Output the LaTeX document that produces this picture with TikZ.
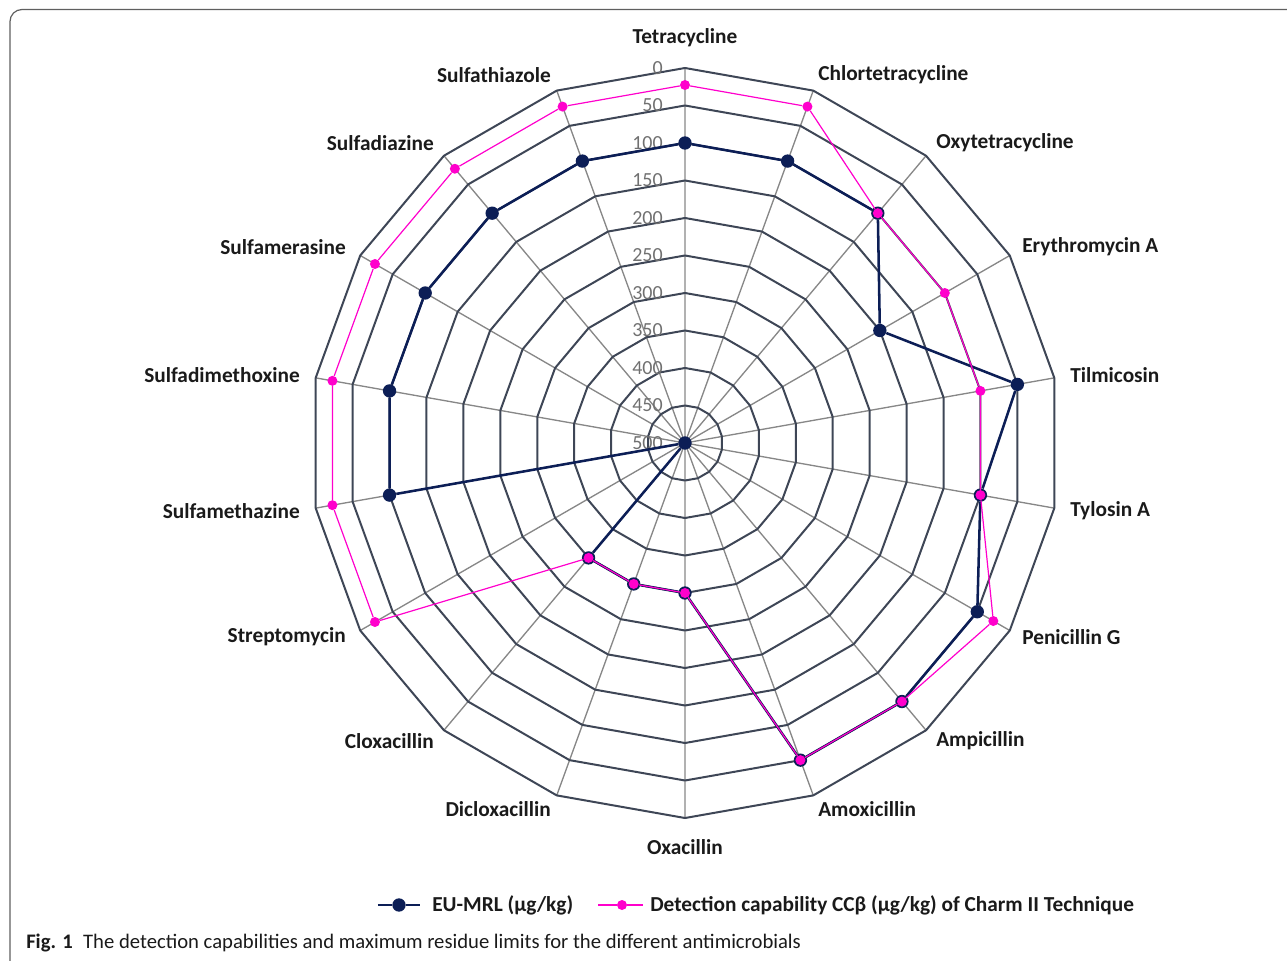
\documentclass[tikz,border=0pt]{standalone}
\usepackage{fontspec}
\setmainfont{Carlito}
\usetikzlibrary{shapes.geometric}
\definecolor{mrlblue}{RGB}{12,30,86}
\definecolor{ccbpink}{RGB}{255,0,204}
\definecolor{ringgray}{RGB}{62,70,86}
\definecolor{spokegray}{RGB}{135,135,135}
\definecolor{tickgray}{RGB}{112,112,112}
\definecolor{framegray}{RGB}{95,95,95}
\definecolor{textblack}{RGB}{26,26,26}

\begin{document}
\begin{tikzpicture}
[x=0.75pt, y=0.75pt, line join=round,
ring/.style={regular polygon, regular polygon sides=18, rotate=10, draw=ringgray, line width=1.5pt, inner sep=0pt},
spoke/.style={draw=spokegray, line width=1pt},
tick/.style={anchor=east, inner sep=0pt, text=tickgray, font=\fontsize{15}{18}\selectfont},
drug/.style={inner sep=0pt, text=textblack, font=\bfseries\fontsize{16}{19}\selectfont},
mrl/.style={circle, fill=mrlblue, inner sep=0pt, minimum size=10pt},
ccb/.style={circle, fill=ccbpink, inner sep=0pt, minimum size=7.5pt},
mrlline/.style={draw=mrlblue, line width=1.9pt},
ccbline/.style={draw=ccbpink, line width=0.9pt},
legtext/.style={anchor=west, inner sep=0pt, text=textblack, font=\bfseries\fontsize{16}{19}\selectfont}]

\useasboundingbox (-685,-517) rectangle (602,443);
\draw[framegray, line width=0.9pt, rounded corners=9pt] (-675,433.5) rectangle (660,-580);

\coordinate (c) at (0,0);
\draw[spoke] (c) -- (90:375) (c) -- (70:375) (c) -- (50:375) (c) -- (30:375)
  (c) -- (10:375) (c) -- (-10:375) (c) -- (-30:375) (c) -- (-50:375)
  (c) -- (-70:375) (c) -- (-90:375) (c) -- (-110:375) (c) -- (-130:375)
  (c) -- (-150:375) (c) -- (-170:375) (c) -- (170:375) (c) -- (150:375)
  (c) -- (130:375) (c) -- (110:375);

\node[ring, minimum size=562.5pt] (r0) at (c) {};
\node[ring, minimum size=506.25pt] (r50) at (c) {};
\node[ring, minimum size=450pt] (r100) at (c) {};
\node[ring, minimum size=393.75pt] (r150) at (c) {};
\node[ring, minimum size=337.5pt] (r200) at (c) {};
\node[ring, minimum size=281.25pt] (r250) at (c) {};
\node[ring, minimum size=225pt] (r300) at (c) {};
\node[ring, minimum size=168.75pt] (r350) at (c) {};
\node[ring, minimum size=112.5pt] (r400) at (c) {};
\node[ring, minimum size=56.25pt] (r450) at (c) {};

\node[tick] (t0) at (-22,375) {0};
\node[tick] (t50) at (-22,337.5) {50};
\node[tick] (t100) at (-22,300) {100};
\node[tick] (t150) at (-22,262.5) {150};
\node[tick] (t200) at (-22,225) {200};
\node[tick] (t250) at (-22,187.5) {250};
\node[tick] (t300) at (-22,150) {300};
\node[tick] (t350) at (-22,112.5) {350};
\node[tick] (t400) at (-22,75) {400};
\node[tick] (t450) at (-22,37.5) {450};
\node[tick] (t500) at (-22,0) {500};

\node[drug] (l1) at (0,405) {Tetracycline};
\node[drug, anchor=west] (l2) at (133,368) {Chlortetracycline};
\node[drug, anchor=west] (l3) at (251,300) {Oxytetracycline};
\node[drug, anchor=west] (l4) at (337,196) {Erythromycin A};
\node[drug, anchor=west] (l5) at (385,68) {Tilmicosin};
\node[drug, anchor=west] (l6) at (385,-68) {Tylosin A};
\node[drug, anchor=west] (l7) at (337,-194) {Penicillin G};
\node[drug, anchor=west] (l8) at (251,-298) {Ampicillin};
\node[drug, anchor=west] (l9) at (133,-366) {Amoxicillin};
\node[drug] (l10) at (0,-404) {Oxacillin};
\node[drug, anchor=east] (l11) at (-134,-366) {Dicloxacillin};
\node[drug, anchor=east] (l12) at (-251,-298) {Cloxacillin};
\node[drug, anchor=east] (l13) at (-339,-194) {Streptomycin};
\node[drug, anchor=east] (l14) at (-385,-68) {Sulfamethazine};
\node[drug, anchor=east] (l15) at (-385,68) {Sulfadimethoxine};
\node[drug, anchor=east] (l16) at (-339,196) {Sulfamerasine};
\node[drug, anchor=east] (l17) at (-251,300) {Sulfadiazine};
\node[drug, anchor=east] (l18) at (-134,368) {Sulfathiazole};

\node[mrl] (e1) at (90:300) {};
\node[mrl] (e2) at (70:300) {};
\node[mrl] (e3) at (50:300) {};
\node[mrl] (e4) at (30:225) {};
\node[mrl] (e5) at (10:337.5) {};
\node[mrl] (e6) at (-10:300) {};
\node[mrl] (e7) at (-30:337.5) {};
\node[mrl] (e8) at (-50:337.5) {};
\node[mrl] (e9) at (-70:337.5) {};
\node[mrl] (e10) at (-90:150) {};
\node[mrl] (e11) at (-110:150) {};
\node[mrl] (e12) at (-130:150) {};
\node[mrl] (e13) at (-150:0) {};
\node[mrl] (e14) at (-170:300) {};
\node[mrl] (e15) at (170:300) {};
\node[mrl] (e16) at (150:300) {};
\node[mrl] (e17) at (130:300) {};
\node[mrl] (e18) at (110:300) {};
\draw[mrlline] (e1) -- (e2) -- (e3) -- (e4) -- (e5) -- (e6) -- (e7) -- (e8) -- (e9)
  -- (e10) -- (e11) -- (e12) -- (e13) -- (e14) -- (e15) -- (e16) -- (e17) -- (e18) -- (e1);

\node[ccb] (d1) at (90:358) {};
\node[ccb] (d2) at (70:358) {};
\node[ccb] (d3) at (50:300) {};
\node[ccb] (d4) at (30:300) {};
\node[ccb] (d5) at (10:300) {};
\node[ccb] (d6) at (-10:300) {};
\node[ccb] (d7) at (-30:356) {};
\node[ccb] (d8) at (-50:337.5) {};
\node[ccb] (d9) at (-70:337.5) {};
\node[ccb] (d10) at (-90:150) {};
\node[ccb] (d11) at (-110:150) {};
\node[ccb] (d12) at (-130:150) {};
\node[ccb] (d13) at (-150:358) {};
\node[ccb] (d14) at (-170:358) {};
\node[ccb] (d15) at (170:358) {};
\node[ccb] (d16) at (150:358) {};
\node[ccb] (d17) at (130:358) {};
\node[ccb] (d18) at (110:358) {};
\draw[ccbline] (d1) -- (d2) -- (d3) -- (d4) -- (d5) -- (d6) -- (d7) -- (d8) -- (d9)
  -- (d10) -- (d11) -- (d12) -- (d13) -- (d14) -- (d15) -- (d16) -- (d17) -- (d18) -- (d1);

\coordinate (la) at (-307,-462);
\coordinate (lb) at (-265,-462);
\node[mrl] (lm) at (-286,-462) {};
\draw[mrlline] (la) -- (lm) -- (lb);
\node[legtext] (lt1) at (-253,-462) {EU-MRL (µg/kg)};

\coordinate (lc) at (-87,-462);
\coordinate (ld) at (-42,-462);
\node[ccb] (lp) at (-63,-462) {};
\draw[ccbline] (lc) -- (lp) -- (ld);
\node[legtext] (lt2) at (-35,-462) {Detection capability CCβ (µg/kg) of Charm II Technique};

\node[anchor=west, inner sep=0pt, text=textblack, font=\fontsize{15.5}{18}\selectfont] (cap) at (-659,-500)
  {\textbf{Fig. 1}\hspace{0.5em}The detection capabilities and maximum residue limits for the different antimicrobials};

\end{tikzpicture}
\end{document}
